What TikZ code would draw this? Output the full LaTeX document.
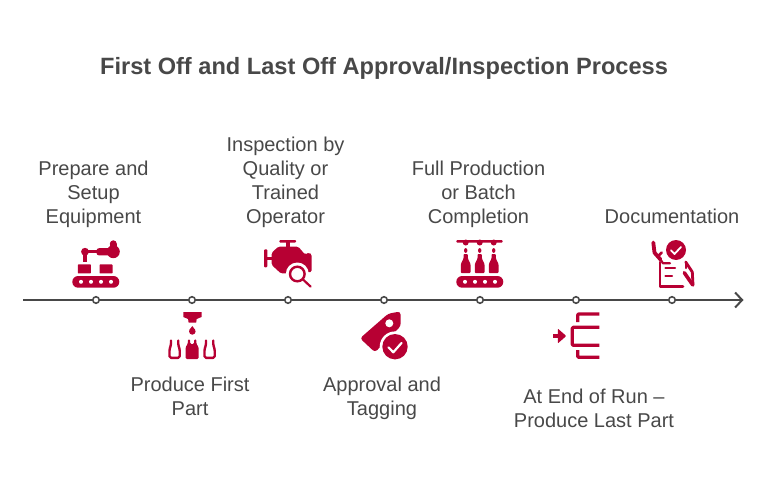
\documentclass[tikz,border=0pt]{standalone}
\usepackage{fontspec}
\setmainfont{Liberation Sans}
\usetikzlibrary{arrows.meta}
\definecolor{ink}{HTML}{484848}
\definecolor{crim}{HTML}{B70033}
\tikzset{
  label/.style={text=ink,align=center,font=\fontsize{20}{24}\selectfont,inner sep=0pt},
  titletext/.style={text=ink,font=\fontsize{23.6}{28}\selectfont\bfseries,inner sep=0pt},
  dot/.style={circle,draw=ink,fill=white,line width=1.6pt,minimum size=6.5pt,inner sep=0pt},
  axis/.style={draw=ink,line width=2pt,-{Straight Barb[length=7pt,width=15pt,line width=2pt]}},
  ic/.style={fill=crim,draw=none},
  st/.style={draw=crim,line width=3pt,line cap=round,line join=round},
  hole/.style={fill=white,draw=none}
}
\begin{document}
\begin{tikzpicture}[x=1pt,y=-1pt]
\useasboundingbox (0,0) rectangle (768,492);
\node[titletext] (title) at (384,68) {First Off and Last Off Approval/Inspection Process};
\coordinate (axisA) at (23,300);
\coordinate (axisB) at (743.5,300);
\draw[axis] (axisA) -- (axisB);
\foreach \n/\x in {d1/96,d2/192,d3/288,d4/384,d5/480,d6/576,d7/672}
  \node[dot] (\n) at (\x,300) {};
\node[label] (t1) at (93.5,194.5) {Prepare and\\Setup\\Equipment};
\node[label] (t2) at (190,396.5) {Produce First\\Part};
\node[label] (t3) at (285.5,182.5) {Inspection by\\Quality or\\Trained\\Operator};
\node[label] (t4) at (382,398.5) {Approval and\\Tagging};
\node[label] (t5) at (478.5,194.5) {Full Production\\or Batch\\Completion};
\node[label] (t6) at (594,408.5) {At End of Run –\\Produce Last Part};
\node[label] (t7) at (672,216.5) {Documentation};
% icon 1
\fill[ic,rounded corners=5.8pt] (72.3,276) rectangle (119.3,287.7);
\foreach \x in {81,91,101,111} \fill[hole] (\x,281.8) circle (2);
\fill[ic,rounded corners=0.6pt] (77.8,264.4) rectangle (90.9,273.4);
\fill[ic,rounded corners=0.6pt] (99.5,264.4) rectangle (112.5,273.4);
\fill[ic] (85,251.7) circle (3.9);
\fill[ic] (83.4,252) rectangle (86.6,261.5);
\fill[ic] (85,250) rectangle (98,253.4);
\fill[ic,rounded corners=2.5pt] (96.5,248.2) rectangle (112,255.4);
\fill[ic] (113.3,251.7) circle (6.5);
\fill[ic] (113.3,243.8) circle (3.5);
\fill[ic] (109.9,243.8) rectangle (116.7,250);
% icon 2
\fill[ic] (183.3,312) -- (201.5,312) -- (201.5,317) -- (196.7,319) -- (196.2,322.5) -- (188.6,322.5) -- (188.1,319) -- (183.3,317) -- cycle;
\fill[ic] (192.3,331.4) circle (3.3);
\fill[ic] (192.3,326) -- (195.2,330) -- (189.4,330) -- cycle;
\fill[ic,rounded corners=1.2pt] (185.6,359) -- (185.6,347) -- (187.8,344) -- (187.8,339.3) -- (190,339.3) -- (190.2,344) -- (194,344) -- (194.2,339.3) -- (196.4,339.3) -- (196.4,344) -- (198.6,347) -- (198.6,359) -- cycle;
\draw[st,line width=2.4pt,rounded corners=1.5pt] (171,340.5) -- (171,345) -- (169.5,349) -- (169.5,357.8) -- (179.7,357.8) -- (179.7,349) -- (178.2,345) -- (178.2,340.5);
\draw[st,line width=2.4pt,rounded corners=1.5pt] (206,340.5) -- (206,345) -- (204.5,349) -- (204.5,357.8) -- (214.7,357.8) -- (214.7,349) -- (213.2,345) -- (213.2,340.5);
% icon 3
\fill[ic,rounded corners=1pt] (279.3,240) rectangle (296,242.7);
\fill[ic] (286,242) rectangle (289.5,248);
\fill[ic,rounded corners=1pt] (264,249.3) rectangle (267.3,267.3);
\fill[ic] (267,256.7) rectangle (273,260);
\fill[ic,rounded corners=1.5pt] (271.7,252.7) -- (278.3,246.7) -- (298.3,246.7) -- (305,254.5) -- (309,252.5) -- (311.7,254.5) -- (311.7,272) -- (281,273.5) -- (271.7,265) -- cycle;
\fill[white] (297.3,274) circle (11.5);
\draw[crim,line width=2.4pt] (297.3,274) circle (7.3);
\draw[crim,line width=2.2pt,line cap=round] (303,279.5) -- (310.5,286.5);
% icon 4
\fill[ic,rounded corners=3pt] (360,338.3) -- (388.3,313.6) -- (400.5,311.5) -- (400.8,326) -- (375,352.3) -- cycle;
\fill[hole] (389.3,323.3) circle (4);
\fill[white] (395,346.7) circle (15.3);
\fill[ic] (395,346.7) circle (12.7);
\draw[white,line width=2.2pt,line cap=round,line join=round] (388.5,347.3) -- (393.3,352.3) -- (401.5,343);
% icon 5
\fill[ic,rounded corners=1pt] (456.3,240) rectangle (502.7,242.7);
\fill[ic,rounded corners=5.8pt] (456.3,276) rectangle (503.3,287.7);
\foreach \x in {465,475,485,495} \fill[hole] (\x,281.8) circle (2);
\foreach \x in {465.7,479.7,493.7}{
  \fill[ic] (\x,242.5) circle (3);
  \fill[ic] (\x,250.5) ellipse (1.7 and 2.4);
  \fill[ic,rounded corners=0.8pt] (\x-2,254) -- (\x+2,254) -- (\x+2.2,258.5) -- (\x+4.8,264) -- (\x+4.8,273) -- (\x-4.8,273) -- (\x-4.8,264) -- (\x-2.2,258.5) -- cycle;
}
% icon 6
\fill[ic] (676,250) circle (10);
\draw[white,line width=1.8pt,line cap=round,line join=round] (671,250.3) -- (674.5,254) -- (681,247);
\draw[st,line width=2.6pt] (659.8,262) -- (659.8,286.3) -- (683,286.3);
\draw[st,line width=2pt] (665.3,267.7) -- (675,267.7);
\draw[st,line width=2pt] (665.3,275.8) -- (672,275.8);
\draw[st,line width=3.8pt] (653.3,242.5) -- (654.5,252.7) -- (660.5,259.5);
\draw[st,line width=2.6pt] (661.7,252.5) -- (657.7,256.7);
\draw[st,line width=2.2pt] (660.5,259.5) -- (663,263.3) -- (670,263.3);
\draw[st,line width=2.8pt] (685.7,262) -- (692.3,272) -- (693,285);
\draw[st,line width=3.6pt] (684.3,272.7) -- (690,281) -- (692.8,285);
\draw[st,line width=2.4pt] (686,262) -- (686,268);
% icon 7
\fill[ic] (552.7,334.4) rectangle (559,337.6);
\fill[ic,rounded corners=0.8pt] (557.8,328.6) -- (566.3,336) -- (557.8,343.4) -- cycle;
\draw[st,line width=3.3pt,line cap=butt,rounded corners=1pt] (599.3,327.3) -- (572.3,327.3) -- (572.3,345.3) -- (599.3,345.3);
\draw[st,line width=3.3pt,line cap=butt,rounded corners=1pt] (599.3,314) -- (577.7,314) -- (577.7,322);
\draw[st,line width=3.3pt,line cap=butt,rounded corners=1pt] (577.7,350) -- (577.7,357.3) -- (599.3,357.3);
\end{tikzpicture}
\end{document}
